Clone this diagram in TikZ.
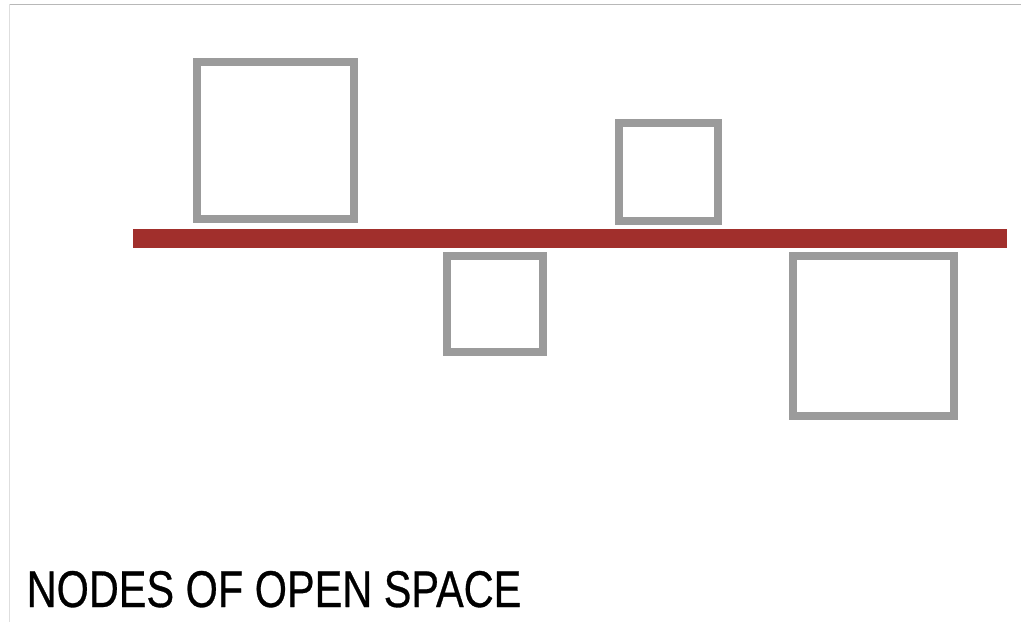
\documentclass[tikz,border=0pt]{standalone}
\usepackage{fontspec}
\setmainfont{Liberation Sans}
\newfontfamily\titlefont[FakeBold=0.6]{Liberation Sans}
\definecolor{barred}{HTML}{A12F2C}
\definecolor{boxgray}{HTML}{9B9B9B}
\begin{document}
\begin{tikzpicture}[x=1pt,y=-1pt,
  box/.style={draw=boxgray, line width=8pt, fill=white, inner sep=0pt, outer sep=0pt},
  framel/.style={line width=1pt}]
\useasboundingbox[fill=white] (0,0) rectangle (1021,622);
% frame lines
\draw[framel, draw=black!28] (9,4) -- (1021,4);
\draw[framel, draw=black!13] (9.5,4) -- (9.5,622);
% red bar
\node[fill=barred, inner sep=0pt, outer sep=0pt, minimum width=874pt, minimum height=19pt] (bar) at (570,238.5) {};
% boxes
\node[box, minimum width=157pt, minimum height=157pt] (n1) at (275.5,140.5) {};
\node[box, minimum width=99pt, minimum height=98pt] (n2) at (668.5,172) {};
\node[box, minimum width=96pt, minimum height=96pt] (n3) at (495,304) {};
\node[box, minimum width=161pt, minimum height=160pt] (n4) at (873.5,336) {};
% title
\node[anchor=base west, inner sep=0pt] (title) at (26.5,607)
  {\scalebox{0.802}[1]{\titlefont\fontsize{51.7}{60}\selectfont NODES OF OPEN SPACE}};
\end{tikzpicture}
\end{document}
